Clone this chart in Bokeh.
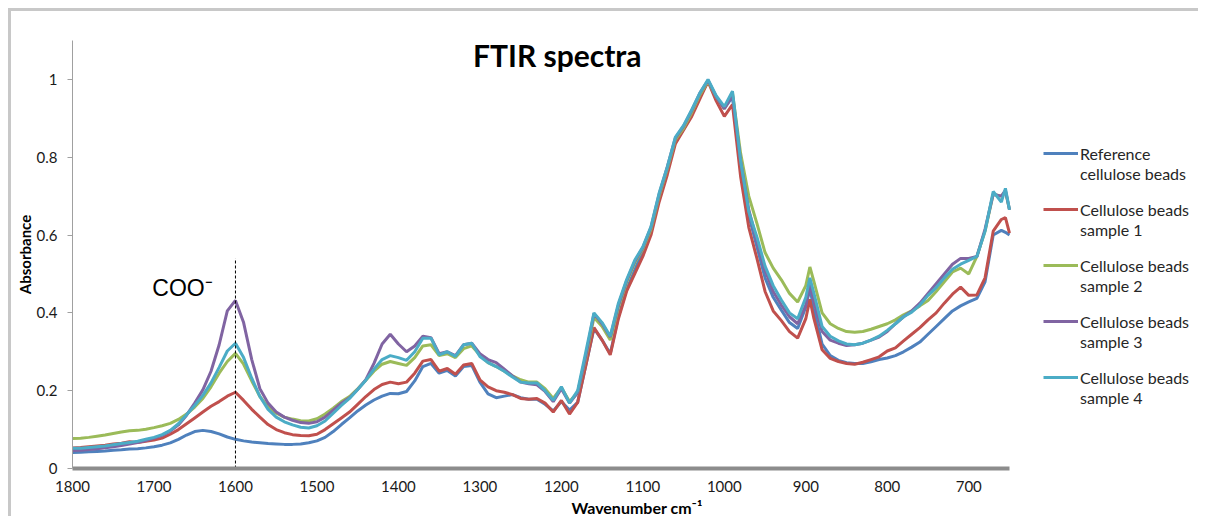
from bokeh.plotting import figure
from bokeh.models import Range1d, FixedTicker, Legend, LegendItem, Label
from bokeh.embed import file_html
from bokeh.resources import INLINE

# ---------------- data ----------------
wavenumber = list(range(1800, 890, -10)) + [895] + list(range(890, 655, -10)) + [655, 650]

reference = (
    [0.041, 0.042, 0.043, 0.044, 0.045, 0.047, 0.048, 0.050, 0.051, 0.053] +
    [0.056, 0.060, 0.066, 0.075, 0.086, 0.095, 0.098, 0.095, 0.089, 0.081] +
    [0.075, 0.071, 0.068, 0.066, 0.064, 0.063, 0.062, 0.062, 0.063, 0.066] +
    [0.071, 0.080, 0.095, 0.113, 0.130, 0.148, 0.163, 0.176, 0.186, 0.193] +
    [0.192, 0.198, 0.225, 0.262, 0.270, 0.245, 0.252, 0.238, 0.262, 0.265] +
    [0.222, 0.192, 0.182, 0.186, 0.190, 0.182, 0.178, 0.178, 0.165, 0.148] +
    [0.172, 0.150, 0.170, 0.265, 0.360, 0.330, 0.295, 0.390, 0.460, 0.510] +
    [0.560, 0.610, 0.695, 0.765, 0.840, 0.872, 0.910, 0.955, 0.995, 0.955] +
    [0.925, 0.955, 0.780, 0.650, 0.570, 0.490, 0.440, 0.407, 0.375, 0.360] +
    [0.415, 0.462, 0.410, 0.320, 0.290, 0.278, 0.272, 0.270, 0.270, 0.274] +
    [0.280, 0.284, 0.290, 0.300, 0.312, 0.325, 0.345, 0.365, 0.385, 0.405] +
    [0.418, 0.428, 0.437, 0.480, 0.600, 0.612, 0.607, 0.600]
)

sample1 = (
    [0.053, 0.054, 0.056, 0.058, 0.060, 0.063, 0.065, 0.069, 0.067, 0.070] +
    [0.073, 0.078, 0.088, 0.100, 0.115, 0.130, 0.145, 0.160, 0.172, 0.186] +
    [0.196, 0.175, 0.152, 0.132, 0.113, 0.100, 0.092, 0.087, 0.085, 0.084] +
    [0.088, 0.100, 0.115, 0.130, 0.145, 0.165, 0.185, 0.203, 0.216, 0.222] +
    [0.218, 0.222, 0.245, 0.276, 0.280, 0.250, 0.257, 0.242, 0.266, 0.270] +
    [0.228, 0.210, 0.200, 0.196, 0.190, 0.180, 0.178, 0.180, 0.168, 0.145] +
    [0.175, 0.140, 0.170, 0.265, 0.362, 0.330, 0.292, 0.385, 0.455, 0.500] +
    [0.545, 0.600, 0.685, 0.755, 0.835, 0.870, 0.905, 0.950, 0.995, 0.945] +
    [0.905, 0.935, 0.750, 0.620, 0.540, 0.455, 0.405, 0.380, 0.352, 0.335] +
    [0.385, 0.435, 0.385, 0.305, 0.283, 0.275, 0.270, 0.268, 0.273, 0.280] +
    [0.287, 0.302, 0.310, 0.328, 0.345, 0.362, 0.382, 0.400, 0.425, 0.448] +
    [0.466, 0.445, 0.446, 0.490, 0.610, 0.640, 0.645, 0.605]
)

sample2 = (
    [0.077, 0.078, 0.080, 0.083, 0.086, 0.090, 0.094, 0.097, 0.098, 0.101] +
    [0.105, 0.110, 0.116, 0.126, 0.140, 0.158, 0.180, 0.210, 0.245, 0.275] +
    [0.296, 0.268, 0.225, 0.185, 0.158, 0.142, 0.132, 0.127, 0.123, 0.122] +
    [0.128, 0.140, 0.155, 0.172, 0.185, 0.205, 0.227, 0.250, 0.268, 0.275] +
    [0.270, 0.265, 0.285, 0.315, 0.318, 0.290, 0.295, 0.285, 0.308, 0.315] +
    [0.292, 0.272, 0.262, 0.250, 0.238, 0.228, 0.222, 0.222, 0.205, 0.180] +
    [0.208, 0.172, 0.195, 0.285, 0.388, 0.365, 0.330, 0.415, 0.478, 0.528] +
    [0.565, 0.615, 0.700, 0.770, 0.845, 0.875, 0.915, 0.960, 0.995, 0.955] +
    [0.925, 0.965, 0.810, 0.700, 0.630, 0.555, 0.515, 0.485, 0.450, 0.428] +
    [0.470, 0.518, 0.480, 0.400, 0.372, 0.360, 0.352, 0.350, 0.352, 0.358] +
    [0.365, 0.372, 0.382, 0.395, 0.405, 0.418, 0.432, 0.455, 0.480, 0.505] +
    [0.515, 0.500, 0.545, 0.610, 0.705, 0.700, 0.712, 0.665]
)

sample3 = (
    [0.046, 0.047, 0.049, 0.051, 0.053, 0.056, 0.059, 0.063, 0.067, 0.072] +
    [0.078, 0.085, 0.096, 0.112, 0.137, 0.168, 0.202, 0.250, 0.318, 0.405] +
    [0.432, 0.375, 0.280, 0.205, 0.168, 0.145, 0.132, 0.124, 0.118, 0.116] +
    [0.120, 0.132, 0.150, 0.168, 0.182, 0.203, 0.228, 0.270, 0.320, 0.345] +
    [0.320, 0.300, 0.315, 0.340, 0.336, 0.295, 0.300, 0.290, 0.318, 0.322] +
    [0.295, 0.280, 0.272, 0.255, 0.238, 0.222, 0.218, 0.215, 0.198, 0.172] +
    [0.205, 0.168, 0.195, 0.290, 0.398, 0.372, 0.338, 0.420, 0.482, 0.532] +
    [0.568, 0.620, 0.705, 0.775, 0.850, 0.880, 0.920, 0.965, 0.998, 0.955] +
    [0.925, 0.960, 0.790, 0.665, 0.585, 0.510, 0.455, 0.420, 0.390, 0.372] +
    [0.420, 0.472, 0.430, 0.352, 0.330, 0.322, 0.316, 0.318, 0.322, 0.330] +
    [0.338, 0.352, 0.372, 0.390, 0.405, 0.425, 0.450, 0.475, 0.500, 0.525] +
    [0.540, 0.540, 0.545, 0.615, 0.705, 0.700, 0.715, 0.665]
)

sample4 = (
    [0.052, 0.052, 0.054, 0.056, 0.058, 0.061, 0.064, 0.067, 0.070, 0.075] +
    [0.080, 0.087, 0.098, 0.115, 0.138, 0.162, 0.188, 0.220, 0.260, 0.302] +
    [0.322, 0.285, 0.232, 0.185, 0.152, 0.132, 0.120, 0.112, 0.106, 0.104] +
    [0.110, 0.122, 0.142, 0.162, 0.180, 0.203, 0.227, 0.255, 0.280, 0.290] +
    [0.285, 0.278, 0.300, 0.335, 0.335, 0.292, 0.300, 0.288, 0.318, 0.322] +
    [0.288, 0.272, 0.262, 0.250, 0.235, 0.222, 0.220, 0.220, 0.200, 0.175] +
    [0.210, 0.168, 0.200, 0.300, 0.400, 0.375, 0.340, 0.425, 0.485, 0.535] +
    [0.570, 0.622, 0.708, 0.775, 0.852, 0.882, 0.922, 0.965, 1.000, 0.958] +
    [0.930, 0.970, 0.790, 0.660, 0.595, 0.520, 0.470, 0.433, 0.400, 0.385] +
    [0.440, 0.490, 0.450, 0.365, 0.340, 0.328, 0.320, 0.318, 0.322, 0.330] +
    [0.340, 0.355, 0.372, 0.390, 0.402, 0.420, 0.445, 0.465, 0.490, 0.512] +
    [0.525, 0.535, 0.545, 0.610, 0.712, 0.685, 0.720, 0.665]
)

# legend labels, split in first / second line
series_line1 = ["Reference", "Cellulose beads", "Cellulose beads",
                "Cellulose beads", "Cellulose beads"]
series_line2 = ["cellulose beads", "sample 1", "sample 2", "sample 3", "sample 4"]
series_values = [reference, sample1, sample2, sample3, sample4]
series_colors = ["#4F81BD", "#C0504D", "#9BBB59", "#8064A2", "#4BACC6"]

x_start, x_stop = 1800, 650          # wavenumber axis extent
x_ticks = [1800, 1700, 1600, 1500, 1400, 1300, 1200, 1100, 1000, 900, 800, 700]
y_ticks = [0, 0.2, 0.4, 0.6, 0.8, 1]
y_tick_labels = {0: "0", 0.2: "0.2", 0.4: "0.4", 0.6: "0.6", 0.8: "0.8", 1: "1"}

coo_band = 1600        # marker line position
coo_band_top = 0.54    # marker line top
title_text = "FTIR spectra"
coo_text = "COO\u207b"

# ---------------- layout (pixels) ----------------
FIG_W, FIG_H = 1190, 508
BORDER_L, BORDER_T = 61, 29
FRAME_H = 428
AXIS_PX = 937                        # length of the wavenumber axis in px
FRAME_W = FIG_W - BORDER_L           # frame extends to the right edge (room for legend)
px_per_unit = AXIS_PX / (x_start - x_stop)
x_range_end = x_start - FRAME_W / px_per_unit

FONT = "Lato"
p = figure(
    width=FIG_W, height=FIG_H,
    x_range=Range1d(x_start, x_range_end), y_range=Range1d(0, 1.1),
    output_backend="svg", toolbar_location=None,
    min_border_left=BORDER_L, min_border_right=0, min_border_top=BORDER_T,
    min_border_bottom=FIG_H - BORDER_T - FRAME_H,
)
p.styles = {"margin-left": "8px", "margin-top": "8px", "vertical-align": "top",
            "border-top": "3px solid #c8c8c8", "border-left": "3px solid #c8c8c8",
            "border-right": "0px none transparent", "border-bottom": "0px none transparent"}
p.outline_line_color = None
p.xgrid.visible = False
p.ygrid.visible = False
p.background_fill_color = "white"
p.border_fill_color = "white"

renderers = []
for vals, col in zip(series_values, series_colors):
    r = p.line(wavenumber, vals, line_color=col, line_width=3)
    renderers.append(r)

p.segment(x0=[coo_band], y0=[0], x1=[coo_band], y1=[coo_band_top],
          line_color="black", line_width=1, line_dash="3 2")

# axes
xa = p.xaxis[0]
xa.bounds = (x_stop, x_start)
xa.ticker = FixedTicker(ticks=x_ticks)
xa.axis_line_color = "#8c8c8c"
xa.axis_line_width = 4
xa.major_tick_line_color = None
xa.major_tick_out = 0
xa.minor_tick_line_color = None
xa.major_label_standoff = 12
xa.major_label_text_font = FONT
xa.major_label_text_font_size = "15px"
xa.major_label_text_color = "#1a1a1a"
xa.axis_label = "Wavenumber cm\u207b\u00b9"
xa.axis_label_text_font = FONT
xa.axis_label_text_font_style = "bold"
xa.axis_label_text_font_size = "16px"
xa.axis_label_text_color = "#000000"
xa.axis_label_standoff = 3

ya = p.yaxis[0]
ya.ticker = FixedTicker(ticks=y_ticks)
ya.major_label_overrides = y_tick_labels
ya.axis_line_color = "#a0a0a0"
ya.axis_line_width = 1
ya.major_tick_line_color = "#a0a0a0"
ya.major_tick_out = 5
ya.major_tick_in = 0
ya.minor_tick_line_color = None
ya.major_label_standoff = 10
ya.major_label_text_font = FONT
ya.major_label_text_font_size = "15px"
ya.major_label_text_color = "#1a1a1a"
ya.axis_label = "Absorbance"
ya.axis_label_text_font = FONT
ya.axis_label_text_font_style = "bold"
ya.axis_label_text_font_size = "15px"
ya.axis_label_text_color = "#000000"
ya.axis_label_standoff = 0

# title and annotation
p.add_layout(Label(x=1205, y=1.064, text=title_text, text_align="center",
                   text_baseline="alphabetic", text_font=FONT, text_font_style="bold",
                   text_font_size="30px", text_color="#000000"))
p.add_layout(Label(x=1702, y=0.463, text=coo_text, text_align="left",
                   text_baseline="alphabetic", text_font="Liberation Sans",
                   text_font_size="23px", text_color="#000000"))

# legend (inside the widened frame, right of the axis end):
# first line carries the line glyph, second line sits below it
LEG_X = AXIS_PX + 34
common = dict(orientation="vertical", glyph_height=20, label_height=20,
              spacing=36, padding=0, margin=0, border_line_color=None,
              background_fill_alpha=0, label_text_font=FONT,
              label_text_font_size="16px", label_text_color="#262626")
items1 = [LegendItem(label=n, renderers=[r]) for n, r in zip(series_line1, renderers)]
legend1 = Legend(items=items1, location=(LEG_X, 81), glyph_width=35, label_standoff=2, **common)
items2 = [LegendItem(label=n, renderers=[r]) for n, r in zip(series_line2, renderers)]
legend2 = Legend(items=items2, location=(LEG_X + 37, 61), glyph_width=0, label_standoff=0, **common)
p.add_layout(legend1)
p.add_layout(legend2)

open("out.html", "w").write(file_html(p, INLINE))
